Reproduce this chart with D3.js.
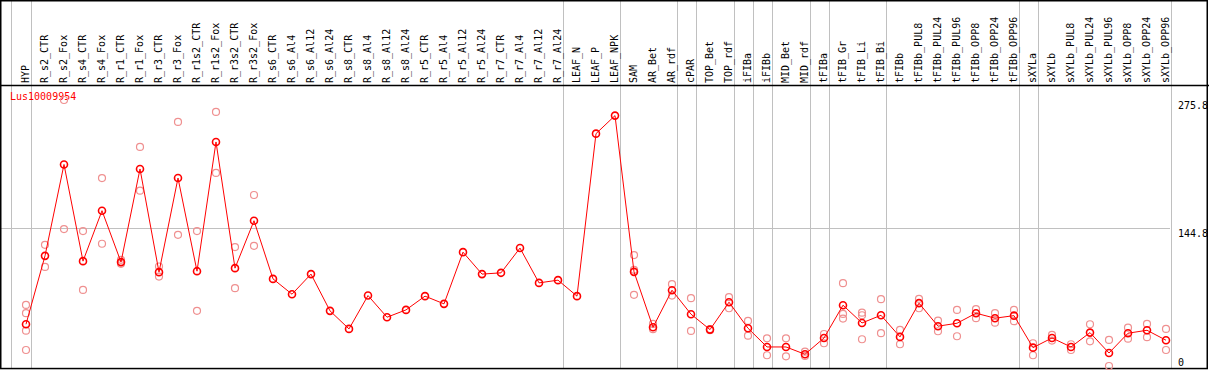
<!DOCTYPE html>
<html lang="en">
<head>
  <meta charset="UTF-8" />
  <title>Lus10009954 expression</title>
  <style>
    body { margin: 0; background: #fff; }
    svg { display: block; }
    .lbl { font: 10px 'DejaVu Sans Mono', monospace; fill: #000; }
    .grid { stroke: #c0c0c0; stroke-width: 1; }
  </style>
</head>
<body>
  <svg id="chart" width="1209" height="370"></svg>
  <script src="https://d3js.org/d3.v7.min.js"></script>
  <script>
    const geneName = "Lus10009954";

    const categories = [
      "HYP", "R_s2_CTR", "R_s2_Fox", "R_s4_CTR", "R_s4_Fox", "R_r1_CTR", "R_r1_Fox",
      "R_r3_CTR", "R_r3_Fox", "R_r1s2_CTR", "R_r1s2_Fox", "R_r3s2_CTR", "R_r3s2_Fox",
      "R_s6_CTR", "R_s6_Al4", "R_s6_Al12", "R_s6_Al24", "R_s8_CTR", "R_s8_Al4", "R_s8_Al12", "R_s8_Al24",
      "R_r5_CTR", "R_r5_Al4", "R_r5_Al12", "R_r5_Al24", "R_r7_CTR", "R_r7_Al4", "R_r7_Al12", "R_r7_Al24",
      "LEAF_N", "LEAF_P", "LEAF_NPK", "SAM", "AR_Bet", "AR_rdf", "cPAR", "TOP_Bet", "TOP_rdf",
      "iFIBa", "iFIBb", "MID_Bet", "MID_rdf", "tFIBa", "tFIB_Gr", "tFIB_Li", "tFIB_Bi", "tFIBb",
      "tFIBb_PUL8", "tFIBb_PUL24", "tFIBb_PUL96", "tFIBb_OPP8", "tFIBb_OPP24", "tFIBb_OPP96",
      "sXYLa", "sXYLb", "sXYLb_PUL8", "sXYLb_PUL24", "sXYLb_PUL96", "sXYLb_OPP8", "sXYLb_OPP24", "sXYLb_OPP96"
    ];

    // mean expression per sample
    const means = [
      45.9, 116.0, 209.7, 110.6, 162.3, 109.6, 205.1,
      99.3, 195.8, 100.3, 232.8, 103.4, 152.0,
      92.4, 76.7, 97.3, 59.6, 41.1, 75.3, 53.1, 60.6,
      74.7, 66.8, 119.8, 97.3, 98.6, 124.0, 88.3, 91.1,
      74.7, 241.3, 259.8, 99.6, 42.8, 80.8, 56.2, 40.4, 68.5,
      41.8, 22.6, 22.6, 15.1, 31.8, 65.4, 47.2, 55.1, 32.9,
      67.5, 43.9, 46.9, 57.2, 52.1, 54.7,
      21.9, 31.8, 22.6, 37.3, 16.4, 36.7, 39.7, 29.5
    ];

    // individual replicates (empty where none shown)
    const replicates = [
      [65.7, 57.2, 39.3, 19.5], [127.3, 104.7], [275.8, 143.5], [141.4, 81.1], [195.8, 128.4], [111.9, 107.8], [227.7, 182.8],
      [105.1, 94.8], [253.3, 137.6], [141.4, 59.6], [263.6, 201.0], [125.0, 82.9], [178.4, 126.3],
      [], [], [], [], [], [], [], [],
      [], [], [], [], [], [], [], [],
      [], [], [], [116.8, 101.7, 76.0], [46.2, 40.8], [87.0, 75.3], [72.6, 39.0], [41.0, 39.8], [73.6, 62.3],
      [49.3, 34.2], [31.5, 14.1], [31.5, 13.0], [17.8, 13.4], [35.9, 26.4], [88.0, 56.5, 51.7], [57.8, 55.1, 30.5], [71.6, 36.7], [40.1, 25.4],
      [71.9, 62.3], [49.6, 38.7], [60.6, 33.6], [61.3, 52.1], [57.2, 47.5], [60.6, 49.0],
      [26.4, 14.1], [34.9, 29.1], [25.4, 19.5], [45.9, 28.4], [29.8, 3.1], [42.4, 31.1], [46.2, 32.6], [41.1, 19.5]
    ];

    // group separators are drawn right after these samples
    const groupEnds = ["HYP", "R_r7_Al24", "LEAF_NPK", "AR_rdf", "cPAR", "TOP_rdf", "iFIBa", "iFIBb",
      "MID_rdf", "tFIBa", "tFIB_Bi", "tFIBb_OPP96", "sXYLa", "sXYLb_OPP96"];

    const yTicks = [0, 144.8, 275.8];

    const W = 1209, H = 370;
    const headerY = 85, bottomY = 369, plotRight = 1170;

    const svg = d3.select("#chart");

    const x = d3.scalePoint().domain(categories).range([26, 1166]);
    const y = d3.scaleLinear().domain([0, 275.8]).range([bottomY, 100]);

    // vertical separators
    const sepX = [x(categories[0]) - 15].concat(groupEnds.map(c => x(c) + 4.5));
    svg.selectAll(".vsep").data(sepX).enter().append("line")
      .attr("class", "grid")
      .attr("x1", d => Math.round(d) + 0.5).attr("x2", d => Math.round(d) + 0.5)
      .attr("y1", 0).attr("y2", bottomY);

    // horizontal mid gridline
    svg.append("line").attr("class", "grid")
      .attr("x1", 0).attr("x2", plotRight)
      .attr("y1", Math.round(y(144.8)) + 0.5).attr("y2", Math.round(y(144.8)) + 0.5);

    // header line
    svg.append("line")
      .attr("x1", 0).attr("x2", W).attr("y1", headerY + 0.5).attr("y2", headerY + 0.5)
      .attr("stroke", "#000").attr("stroke-width", 1.5);

    // frame
    svg.append("rect")
      .attr("x", 0.75).attr("y", 0.75).attr("width", 1206.5).attr("height", 367.8)
      .attr("fill", "none").attr("stroke", "#000").attr("stroke-width", 1.5);

    // column labels
    svg.selectAll(".collbl").data(categories).enter().append("text")
      .attr("class", "lbl")
      .attr("transform", d => `translate(${x(d) + 3},83) rotate(-90)`)
      .text(d => d);

    // y labels on the right
    svg.selectAll(".ylbl").data(yTicks).enter().append("text")
      .attr("class", "lbl")
      .attr("x", 1178)
      .attr("y", d => Math.min(y(d) + 9, 366))
      .text(d => d === 0 ? "0" : d.toFixed(1));

    // gene label
    svg.append("text").attr("class", "lbl")
      .attr("x", 10).attr("y", 100)
      .style("fill", "#ff0000")
      .text(geneName);

    // replicate points
    const repPts = [];
    replicates.forEach((reps, i) => reps.forEach(v => repPts.push({ c: categories[i], v })));
    svg.selectAll(".rep").data(repPts).enter().append("circle")
      .attr("cx", d => x(d.c)).attr("cy", d => y(d.v)).attr("r", 3.5)
      .attr("fill", "none").attr("stroke", "#ef9090").attr("stroke-width", 1.2);

    // mean line
    const meanPts = categories.map((c, i) => ({ c, v: means[i] }));
    svg.append("path").datum(meanPts)
      .attr("fill", "none").attr("stroke", "#ff0000").attr("stroke-width", 1)
      .attr("d", d3.line().x(d => x(d.c)).y(d => y(d.v)));

    svg.selectAll(".mean").data(meanPts).enter().append("circle")
      .attr("cx", d => x(d.c)).attr("cy", d => y(d.v)).attr("r", 3.5)
      .attr("fill", "none").attr("stroke", "#ff0000").attr("stroke-width", 1.6);
  </script>
</body>
</html>
